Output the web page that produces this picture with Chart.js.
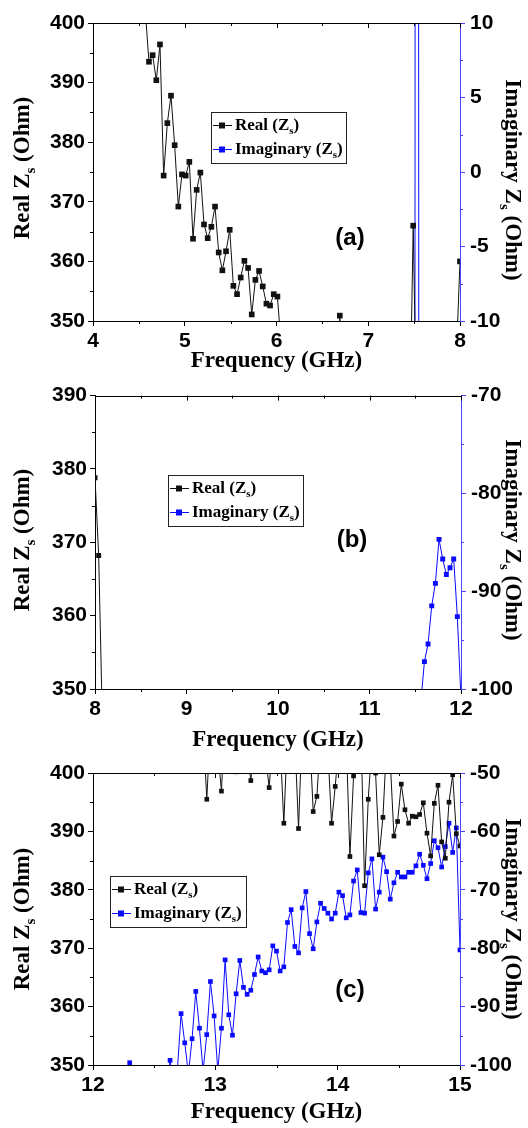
<!DOCTYPE html>
<html>
<head>
<meta charset="utf-8">
<script src="https://cdn.jsdelivr.net/npm/chart.js@4.4.1/dist/chart.umd.min.js"></script>
<style>
  body { margin: 0; background: #fff; }
  .panel { position: absolute; left: 0; width: 528px; }
</style>
</head>
<body>
<div class="panel" style="top:0px;height:378px"><canvas id="chartA" width="528" height="378"></canvas></div>
<div class="panel" style="top:378px;height:374px"><canvas id="chartB" width="528" height="374"></canvas></div>
<div class="panel" style="top:752px;height:376px"><canvas id="chartC" width="528" height="376"></canvas></div>
<script>
// ---- data (a) 4-8 GHz ----
const aXTicks = [4, 5, 6, 7, 8];
const aRealTicks = [350, 360, 370, 380, 390, 400];
const aImagTicks = [-10, -5, 0, 5, 10];
const aRealFreq = [4.57, 4.61, 4.65, 4.69, 4.73, 4.77, 4.81, 4.85, 4.89, 4.93,
    4.97, 5.01, 5.05, 5.09, 5.13, 5.17, 5.21, 5.25, 5.29, 5.33,
    5.37, 5.41, 5.45, 5.49, 5.53, 5.57, 5.61, 5.65, 5.69, 5.73,
    5.77, 5.81, 5.85, 5.89, 5.93, 5.97, 6.01, 6.05, 6.65, 6.69,
    6.73, 7.45, 7.49, 7.53, 7.96, 8.00];
const aReal = [402, 393.5, 394.6, 390.4, 396.4, 374.4, 383.2, 387.8, 379.5, 369.2,
    374.6, 374.4, 376.7, 363.8, 372.0, 374.9, 366.2, 363.9, 365.8, 369.2,
    361.5, 358.5, 361.7, 365.3, 355.9, 354.5, 357.3, 360.1, 358.9, 351.1,
    356.9, 358.4, 355.8, 352.9, 352.6, 354.5, 354.1, 346, 335, 350.9,
    335, 330, 366.0, 330, 344, 360.0];
const aImagFreq = [7.49, 7.53, 7.57];
const aImag = [-300, 300, -300];

// ---- data (b) 8-12 GHz ----
const bXTicks = [8, 9, 10, 11, 12];
const bRealTicks = [350, 360, 370, 380, 390];
const bImagTicks = [-100, -90, -80, -70];
const bRealFreq = [8.00, 8.04, 8.08];
const bReal = [378.8, 368.2, 346];
const bImagFreq = [11.56, 11.60, 11.64, 11.68, 11.72, 11.76, 11.80, 11.84, 11.88, 11.92, 11.96, 12.00];
const bImag = [-101.5, -97.2, -95.4, -91.5, -89.2, -84.7, -86.7, -88.3, -87.6, -86.7, -92.6, -101];

// ---- data (c) 12-15 GHz ----
const cXTicks = [12, 13, 14, 15];
const cRealTicks = [350, 360, 370, 380, 390, 400];
const cImagTicks = [-100, -90, -80, -70, -60, -50];
const cFreq = [12.27, 12.30, 12.33, 12.36, 12.39, 12.42, 12.45, 12.48, 12.51, 12.54,
    12.57, 12.60, 12.63, 12.66, 12.69, 12.72, 12.75, 12.78, 12.81, 12.84,
    12.87, 12.90, 12.93, 12.96, 12.99, 13.02, 13.05, 13.08, 13.11, 13.14,
    13.17, 13.20, 13.23, 13.26, 13.29, 13.32, 13.35, 13.38, 13.41, 13.44,
    13.47, 13.50, 13.53, 13.56, 13.59, 13.62, 13.65, 13.68, 13.71, 13.74,
    13.77, 13.80, 13.83, 13.86, 13.89, 13.92, 13.95, 13.98, 14.01, 14.04,
    14.07, 14.10, 14.13, 14.16, 14.19, 14.22, 14.25, 14.28, 14.31, 14.34,
    14.37, 14.40, 14.43, 14.46, 14.49, 14.52, 14.55, 14.58, 14.61, 14.64,
    14.67, 14.70, 14.73, 14.76, 14.79, 14.82, 14.85, 14.88, 14.91, 14.94,
    14.97, 15.00];
const cReal = [null, null, null, null, null, null, null, null, null, null,
    null, null, null, null, null, null, null, null, null, 415,
    410, 408, 395.5, 408, 403, 404, 396.9, 410, 406, 405,
    400.2, 408, 410, 404, 398.7, 406, 410, 405, 403, 397.5,
    406, 402, 405, 391.4, 407, 410, 406, 390.5, 408, 405,
    407, 393.4, 396.0, 406, 410, 404, 391.4, 397.7, 405, 410,
    406, 385.7, 399.5, 410, 408, 380.7, 395.5, 405, 400.0, 386.0,
    392.4, 405, 402, 389.2, 391.7, 398.1, 393.7, 391.4, 392.6, 392.5,
    392.9, 394.9, 389.7, 385.8, 394.8, 397.9, 388.2, 385.4, 395.0, 399.7,
    389.6, 387.5];
const cImag = [-103, -99.6, -103, null, null, null, null, null, null, null,
    null, -104, -99.2, -103, -100.8, -91.2, -96.2, -101.5, -95.5, -87.4,
    -93.7, -101, -94.8, -85.7, -91.6, -101, -93.7, -82.0, -91.4, -94.9,
    -87.8, -82.1, -86.7, -87.9, -87.2, -84.5, -81.5, -83.9, -84.2, -83.7,
    -79.6, -80.5, -83.9, -83.2, -75.6, -73.4, -79.7, -80.8, -73.1, -70.3,
    -77.5, -80.1, -75.5, -72.3, -73.2, -74.0, -75.0, -74.0, -70.4, -71.0,
    -74.8, -74.3, -68.5, -66.6, -73.9, -74.0, -67.1, -64.7, -73.3, -70.4,
    -64.4, -66.9, -71.6, -68.8, -67.0, -67.8, -67.8, -67.0, -67.0, -65.9,
    -63.9, -65.8, -68.1, -65.5, -61.6, -62.8, -66.1, -62.6, -58.6, -63.6,
    -59.4, -80.3];

const BLACK = '#111';
const BLUE = '#0a0aff';
const AXIS_BLUE = '#4646ff';
const tickFont = { family: '"Liberation Sans", Arial, sans-serif', size: 21, weight: 'bold' };
const SERIF = '"Liberation Serif", "Times New Roman", serif';

function pairs(xs, ys) {
    return xs.map((x, i) => ({ x: x, y: ys[i] }));
}

function midpoints(ticks) {
    const out = [];
    for (let i = 0; i < ticks.length - 1; i++) out.push((ticks[i].value + ticks[i + 1].value) / 2);
    return out;
}

// text with a subscript "s" after "Z"
function zsParts(before, after, size, subSize) {
    return [
        { text: before, font: 'bold ' + size + 'px ' + SERIF, dy: 0 },
        { text: 's', font: 'bold ' + subSize + 'px ' + SERIF, dy: Math.round(size * 0.25) },
        { text: after, font: 'bold ' + size + 'px ' + SERIF, dy: 0 }
    ];
}
function partsWidth(ctx, parts) {
    let w = 0;
    parts.forEach(p => { ctx.font = p.font; w += ctx.measureText(p.text).width; });
    return w;
}
function drawParts(ctx, parts, x, y) {
    parts.forEach(p => {
        ctx.font = p.font;
        ctx.fillText(p.text, x, y + p.dy);
        x += ctx.measureText(p.text).width;
    });
}

const decor = {
    id: 'decor',
    afterDraw(chart, args, o) {
        const ctx = chart.ctx;
        const { left, right, top, bottom } = chart.chartArea;
        const sx = chart.scales.x, yl = chart.scales.yL, yr = chart.scales.yR;
        ctx.save();
        ctx.lineWidth = 1;

        // top frame line
        ctx.strokeStyle = '#000';
        ctx.beginPath();
        ctx.moveTo(left, Math.round(top) + 0.5);
        ctx.lineTo(right, Math.round(top) + 0.5);
        ctx.stroke();

        // ticks: x minor (bottom), mirrored on top (inward)
        const xMin = midpoints(sx.ticks);
        ctx.beginPath();
        xMin.forEach(v => {
            const px = Math.round(sx.getPixelForValue(v)) + 0.5;
            ctx.moveTo(px, bottom); ctx.lineTo(px, bottom + 3);
            ctx.moveTo(px, top); ctx.lineTo(px, top + 3);
        });
        sx.ticks.forEach(t => {
            const px = Math.round(sx.getPixelForValue(t.value)) + 0.5;
            ctx.moveTo(px, top); ctx.lineTo(px, top + 5);
        });
        midpoints(yl.ticks).forEach(v => {
            const py = Math.round(yl.getPixelForValue(v)) + 0.5;
            ctx.moveTo(left - 3, py); ctx.lineTo(left, py);
        });
        ctx.stroke();
        ctx.strokeStyle = AXIS_BLUE;
        ctx.beginPath();
        midpoints(yr.ticks).forEach(v => {
            const py = Math.round(yr.getPixelForValue(v)) + 0.5;
            ctx.moveTo(right, py); ctx.lineTo(right + 3, py);
        });
        ctx.stroke();

        ctx.fillStyle = '#000';
        ctx.textBaseline = 'alphabetic';

        // x title
        ctx.font = 'bold 23px ' + SERIF;
        ctx.textAlign = 'center';
        ctx.fillText('Frequency (GHz)', (left + right) / 2, o.xTitleY + 7);
        ctx.textAlign = 'left';

        // left y title
        let parts = zsParts('Real Z', ' (Ohm)', 23, 15);
        let w = partsWidth(ctx, parts);
        ctx.save();
        ctx.translate(o.yLTitle[0], o.yLTitle[1]);
        ctx.rotate(-Math.PI / 2);
        drawParts(ctx, parts, -w / 2, 7);
        ctx.restore();

        // right y title
        parts = zsParts('Imaginary Z', ' (Ohm)', 23, 15);
        w = partsWidth(ctx, parts);
        ctx.save();
        ctx.translate(o.yRTitle[0], o.yRTitle[1]);
        ctx.rotate(Math.PI / 2);
        drawParts(ctx, parts, -w / 2, 7);
        ctx.restore();

        // panel label
        ctx.font = 'bold 24px "Liberation Sans", Arial, sans-serif';
        ctx.textAlign = 'center';
        ctx.textBaseline = 'middle';
        ctx.fillText(o.label, o.labelPos[0], o.labelPos[1]);
        ctx.textAlign = 'left';
        ctx.textBaseline = 'alphabetic';

        // legend
        const [lx, ly, lw, lh] = o.legend;
        ctx.fillStyle = '#fff';
        ctx.fillRect(lx, ly, lw, lh);
        ctx.strokeStyle = '#222';
        ctx.strokeRect(lx + 0.5, ly + 0.5, lw, lh);
        const rows = [
            { c: BLACK, parts: zsParts('Real (Z', ')', 17, 11), y: ly + 12.5 },
            { c: BLUE, parts: zsParts('Imaginary (Z', ')', 17, 11), y: ly + 37 }
        ];
        rows.forEach(r => {
            ctx.strokeStyle = r.c;
            ctx.beginPath();
            ctx.moveTo(lx + 2, Math.round(r.y) + 0.5);
            ctx.lineTo(lx + 21, Math.round(r.y) + 0.5);
            ctx.stroke();
            ctx.fillStyle = r.c;
            ctx.fillRect(lx + 8, Math.round(r.y) - 2.5, 6, 6);
            ctx.fillStyle = '#000';
            drawParts(ctx, r.parts, lx + 24, r.y + 5);
        });
        ctx.restore();
    }
};

function makePanel(id, p) {
    const H = p.height;
    new Chart(document.getElementById(id), {
        type: 'line',
        data: {
            datasets: [{
                label: 'Real (Zs)',
                data: pairs(p.realFreq, p.real),
                yAxisID: 'yL',
                borderColor: BLACK,
                backgroundColor: BLACK,
                borderWidth: 1,
                pointStyle: 'rect',
                pointRadius: p.pointR,
                pointBorderWidth: 0,
                tension: 0
            }, {
                label: 'Imaginary (Zs)',
                data: pairs(p.imagFreq, p.imag),
                yAxisID: 'yR',
                borderColor: BLUE,
                backgroundColor: BLUE,
                borderWidth: 1,
                pointStyle: 'rect',
                pointRadius: p.pointR,
                pointBorderWidth: 0,
                tension: 0
            }]
        },
        options: {
            responsive: false,
            animation: false,
            devicePixelRatio: 1,
            layout: { padding: { top: p.area.t, left: 0, right: 0, bottom: 0 } },
            plugins: {
                legend: { display: false },
                tooltip: { enabled: false },
                decor: p.decor
            },
            scales: {
                x: {
                    type: 'linear',
                    min: p.xTicks[0],
                    max: p.xTicks[p.xTicks.length - 1],
                    afterBuildTicks: s => { s.ticks = p.xTicks.map(v => ({ value: v })); },
                    afterFit: s => { s.height = H - p.area.b; },
                    ticks: { font: tickFont, color: '#000', padding: 3, maxRotation: 0, autoSkip: false },
                    grid: { display: true, drawOnChartArea: false, drawTicks: true, tickLength: 5, color: '#000' },
                    border: { display: true, color: '#000', width: 1 }
                },
                yL: {
                    type: 'linear',
                    position: 'left',
                    min: p.realTicks[0],
                    max: p.realTicks[p.realTicks.length - 1],
                    afterBuildTicks: s => { s.ticks = p.realTicks.map(v => ({ value: v })); },
                    afterFit: s => { s.width = p.area.l; },
                    ticks: { font: tickFont, color: '#000', padding: 3 },
                    grid: { display: true, drawOnChartArea: false, drawTicks: true, tickLength: 5, color: '#000' },
                    border: { display: true, color: '#000', width: 1 }
                },
                yR: {
                    type: 'linear',
                    position: 'right',
                    min: p.imagTicks[0],
                    max: p.imagTicks[p.imagTicks.length - 1],
                    afterBuildTicks: s => { s.ticks = p.imagTicks.map(v => ({ value: v })); },
                    afterFit: s => { s.width = 528 - p.area.r; },
                    ticks: { font: tickFont, color: '#000', padding: 5 },
                    grid: { display: true, drawOnChartArea: false, drawTicks: true, tickLength: 5, color: AXIS_BLUE },
                    border: { display: true, color: AXIS_BLUE, width: 1 }
                }
            }
        },
        plugins: [decor]
    });
}

makePanel('chartA', {
    height: 378, area: { l: 93, r: 460, t: 23, b: 321 },
    xTicks: aXTicks, realTicks: aRealTicks, imagTicks: aImagTicks,
    realFreq: aRealFreq, real: aReal, imagFreq: aImagFreq, imag: aImag,
    pointR: 4,
    decor: { xTitleY: 360, yLTitle: [22, 168], yRTitle: [513, 180], label: '(a)', labelPos: [350, 238], legend: [211, 112, 135, 51] }
});
makePanel('chartB', {
    height: 374, area: { l: 95, r: 461, t: 14, b: 311 },
    xTicks: bXTicks, realTicks: bRealTicks, imagTicks: bImagTicks,
    realFreq: bRealFreq, real: bReal, imagFreq: bImagFreq, imag: bImag,
    pointR: 3.5,
    decor: { xTitleY: 361, yLTitle: [22, 162], yRTitle: [513, 162], label: '(b)', labelPos: [352, 162], legend: [168, 97, 135, 51] }
});
makePanel('chartC', {
    height: 376, area: { l: 93, r: 460, t: 21, b: 313 },
    xTicks: cXTicks, realTicks: cRealTicks, imagTicks: cImagTicks,
    realFreq: cFreq, real: cReal, imagFreq: cFreq, imag: cImag,
    pointR: 3.3,
    decor: { xTitleY: 359, yLTitle: [22, 167], yRTitle: [513, 167], label: '(c)', labelPos: [350, 238], legend: [110, 124, 136, 51] }
});
</script>
</body>
</html>
